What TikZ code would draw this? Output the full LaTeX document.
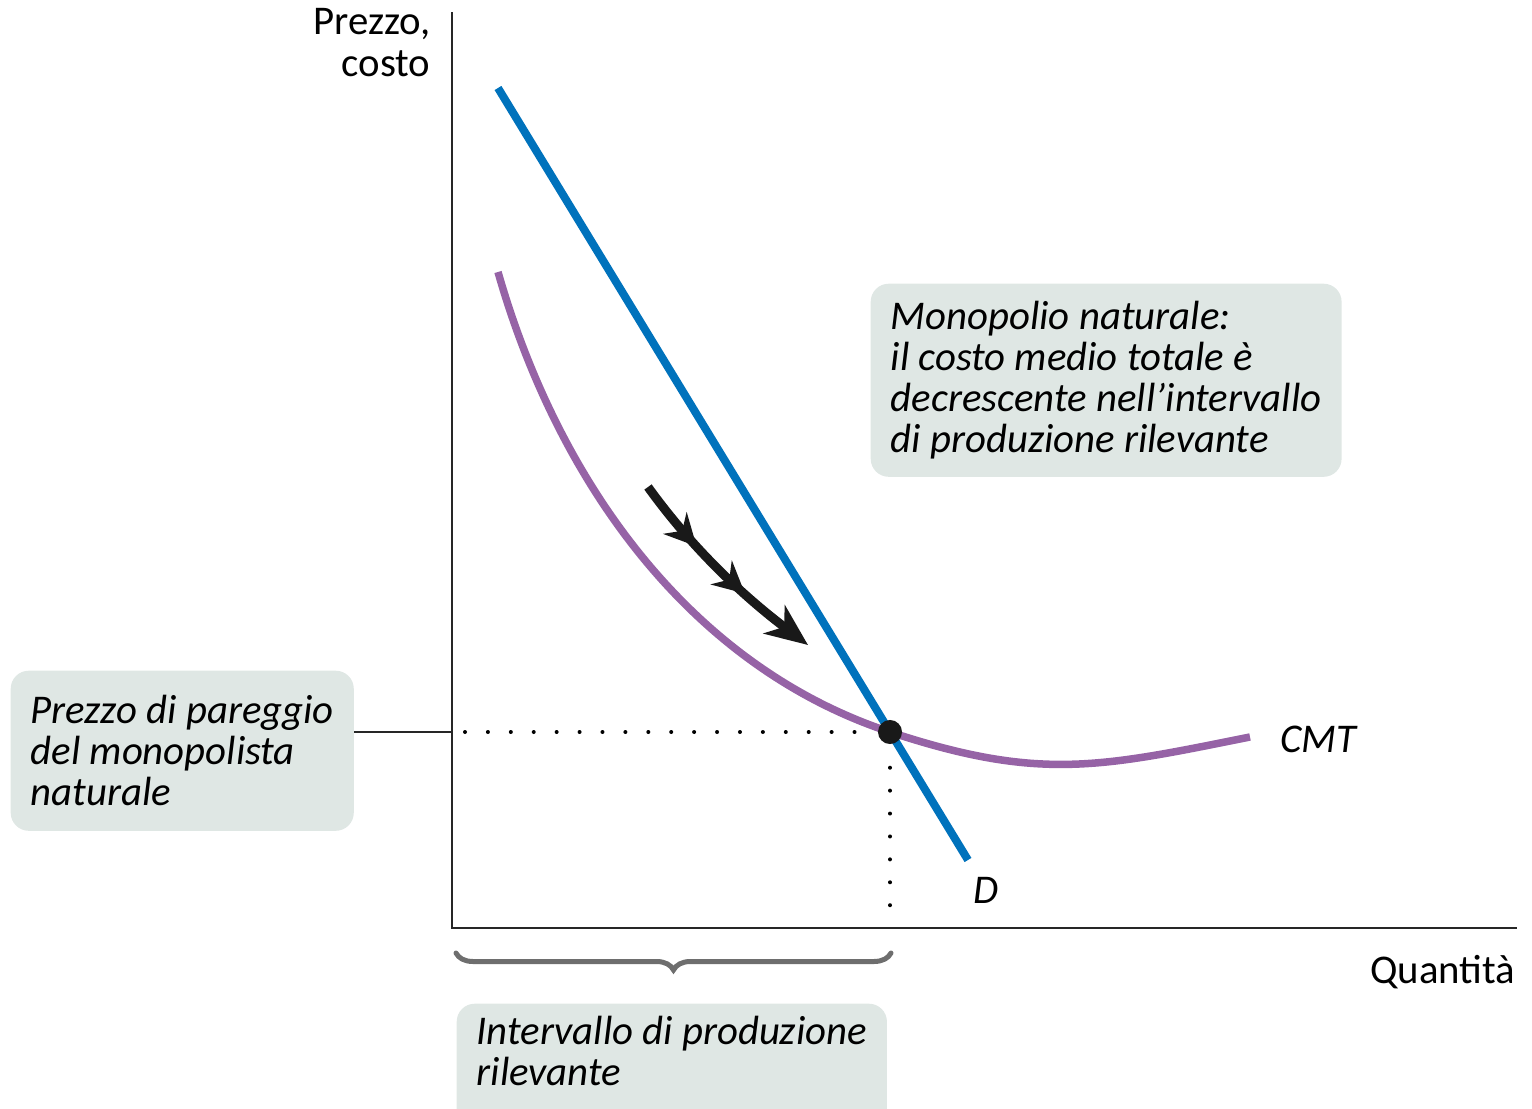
\documentclass[tikz,border=0pt]{standalone}
\usepackage{fontspec}
\setmainfont{Carlito}
\usetikzlibrary{arrows.meta,decorations.pathreplacing,decorations.markings}

\definecolor{domanda}{RGB}{0,114,188}
\definecolor{costomedio}{RGB}{150,99,166}
\definecolor{riquadro}{RGB}{223,231,228}
\definecolor{graffa}{RGB}{110,110,110}

\tikzset{
  asse/.style={line width=0.75pt, black!85},
  nota/.style={fill=riquadro, rounded corners=0.18cm, align=left, inner xsep=0.2cm,
               font=\fontsize{11.6}{11.7}\selectfont\itshape},
  puntini/.style={line width=0.04cm, line cap=round, dash pattern=on 0pt off 0.229cm},
  freccia/.style={line width=0.09cm, black!90, -{Stealth[length=12pt,width=10pt,inset=3.5pt]},
    decoration={markings,
      mark=at position 0.34 with {\arrow{Stealth[length=9pt,width=9pt,inset=3pt]}},
      mark=at position 0.64 with {\arrow{Stealth[length=9pt,width=9pt,inset=3pt]}}},
    postaction={decorate}}
}

\begin{document}
\begin{tikzpicture}[x=0.01cm, y=-0.01cm, font=\fontsize{11.6}{11.7}\selectfont]
  \useasboundingbox (0,0) rectangle (1532,1109);

  % assi
  \coordinate (cima) at (452,12);
  \coordinate (origine) at (452,928);
  \coordinate (fine) at (1517,928);
  \draw[asse] (cima) -- (origine) -- (fine);
  \node[anchor=north east, align=right, inner sep=0pt] (prezzo) at (431,8) {Prezzo,\\costo};
  \node[anchor=base east, inner sep=0pt] (quantita) at (1516,983) {Quantità};

  % punto di pareggio
  \coordinate (pp) at (890,732);

  % curva del costo medio totale
  \coordinate (c0) at (498,272);
  \coordinate (c1) at (1250,737);
  \draw[costomedio, line width=0.075cm]
    (c0) .. controls (558,482) and (690,666) .. (pp)
         .. controls (1040,781.5) and (1100,767) .. (c1);
  \node[anchor=west, font=\fontsize{11.6}{11.7}\selectfont\itshape] (cmt) at (1268,739) {CMT};

  % domanda
  \coordinate (d0) at (498,88);
  \coordinate (d1) at (968,860);
  \draw[domanda, line width=0.08cm] (d0) -- (d1);
  \node[font=\fontsize{11.6}{11.7}\selectfont\itshape] (dlab) at (986,890) {D};

  \node[circle, fill=black!90, minimum size=0.24cm, inner sep=0pt] (pareggio) at (pp) {};
  \coordinate (passe) at (pareggio |- origine);
  \draw[puntini] (465,732) -- ([xshift=-0.15cm]pareggio.west);
  \draw[puntini] ([yshift=-0.23cm]pareggio.south) -- ([yshift=0.1cm]passe);

  % freccia lungo la curva
  \coordinate (f0) at (648,487);
  \coordinate (f1) at (808,645);
  \draw[freccia] (f0) .. controls (692,548) and (742,595) .. (f1);

  % riquadri
  \node[nota, anchor=north west, minimum height=1.93cm] (monopolio) at (870,283)
    {Monopolio naturale:\\il costo medio totale è\\decrescente nell’intervallo\\di produzione rilevante};
  \node[nota, anchor=north west, minimum height=1.6cm] (prezzopar) at (10,670)
    {Prezzo di pareggio\\del monopolista\\naturale};
  \draw[asse] (prezzopar.east |- pareggio) -- (origine |- pareggio);
  \node[nota, anchor=north west, inner ysep=0.12cm] (intervallo) at (456,1003)
    {Intervallo di produzione\\rilevante\rule[-0.5cm]{0pt}{0.1pt}};

  % graffa
  \coordinate (g0) at (456,953);
  \coordinate (g1) at (891,953);
  \draw[graffa, line width=0.05cm, line cap=round, decorate,
    decoration={brace, mirror, amplitude=0.17cm}] (g0) -- (g1);
\end{tikzpicture}
\end{document}
